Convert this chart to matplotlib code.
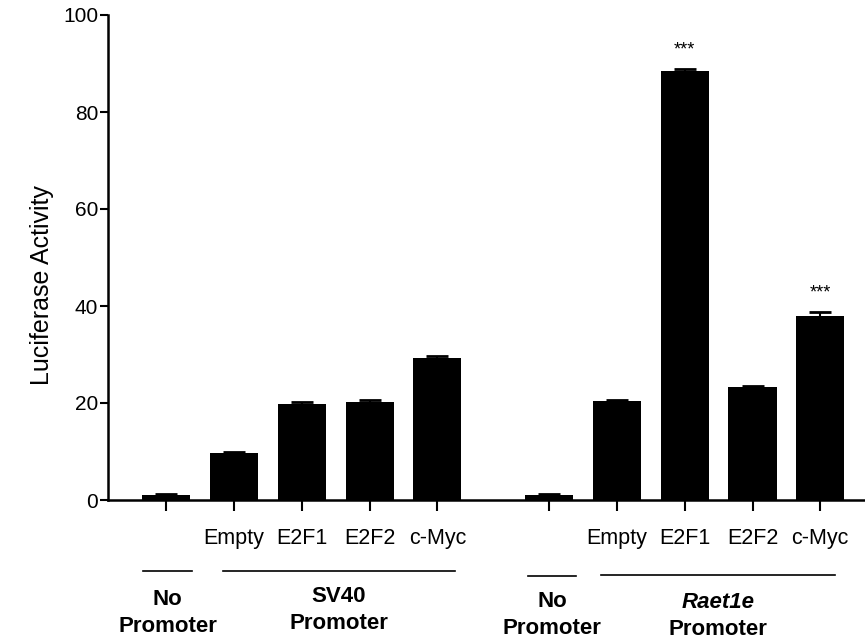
import numpy as np
import matplotlib.pyplot as plt

plt.rcParams['font.family'] = ['Liberation Sans', 'DejaVu Sans']

# datos
labels = ['', 'Empty', 'E2F1', 'E2F2', 'c-Myc', '', 'Empty', 'E2F1', 'E2F2', 'c-Myc']
values = [1.0, 9.7, 19.8, 20.2, 29.2, 1.0, 20.4, 88.4, 23.3, 37.9]
errors = [0.2, 0.3, 0.4, 0.4, 0.5, 0.2, 0.2, 0.5, 0.2, 0.9]
stars = ['', '', '', '', '', '', '', '***', '', '***']
group_names = ['No', 'SV40', 'No', 'Raet1e']
group_first = [0, 1, 5, 6]
group_last = [0, 4, 5, 9]

# posiciones: segundo bloque desplazado
pos = np.array([0, 1, 2, 3, 4, 5.65, 6.65, 7.65, 8.65, 9.65])

# ajustes de la linea y texto de cada grupo (margen izq, margen der, y linea, y texto)
line_pad = [(-0.34, 0.38), (-0.17, 0.26), (-0.31, 0.40), (-0.23, 0.22)]
line_y = [-0.146, -0.146, -0.157, -0.155]
text_y = [(-0.206, -0.260), (-0.200, -0.254), (-0.210, -0.264), (-0.212, -0.268)]

fig = plt.figure(figsize=(8.65, 6.41), dpi=100)
ax = fig.add_axes([108 / 865, 141 / 641, 1 - 108 / 865, 485 / 641])

ax.bar(pos, values, width=0.71, color='black', yerr=errors,
       error_kw=dict(ecolor='black', capsize=8, elinewidth=1.5, capthick=2))

for x, v, e, s in zip(pos, values, errors, stars):
    if s:
        ax.text(x, v + e + 3.8, s, ha='center', va='center', fontsize=13)

ax.set_xlim(-0.86, 10.31)
ax.set_ylim(0, 100)
ax.set_yticks([0, 20, 40, 60, 80, 100])
ax.set_xticks(pos)
ax.set_xticklabels(labels, fontsize=15.5)
ax.tick_params(axis='x', length=8, width=1.5, pad=12)
ax.tick_params(axis='y', length=6, width=1.5, pad=1, labelsize=15)
for sp in ['top', 'right']:
    ax.spines[sp].set_visible(False)
ax.spines['left'].set_linewidth(1.8)
ax.spines['bottom'].set_linewidth(1.8)
ax.set_ylabel('Luciferase Activity', fontsize=18)
ax.yaxis.set_label_coords(-0.071, 0.443)

# etiquetas de grupo debajo del eje
tr = ax.get_xaxis_transform()
for k, name in enumerate(group_names):
    x0 = pos[group_first[k]] + line_pad[k][0]
    x1 = pos[group_last[k]] + line_pad[k][1]
    ax.plot([x0, x1], [line_y[k], line_y[k]], color='black', lw=1.2,
            transform=tr, clip_on=False)
    xc = (x0 + x1) / 2
    ax.text(xc, text_y[k][0], name, ha='center', va='center', fontsize=16,
            fontweight='bold', style='italic' if name == 'Raet1e' else 'normal',
            transform=tr)
    ax.text(xc, text_y[k][1], 'Promoter', ha='center', va='center', fontsize=16,
            fontweight='bold', transform=tr)

fig.savefig('out.png', dpi=100)
